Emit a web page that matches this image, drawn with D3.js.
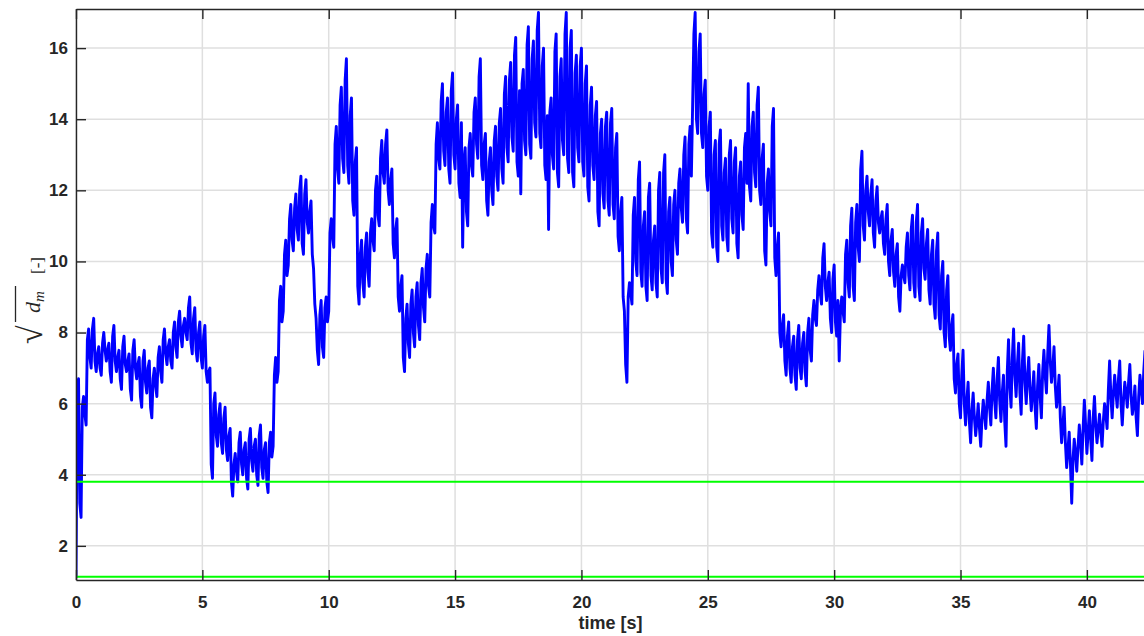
<!DOCTYPE html>
<html>
<head>
<meta charset="utf-8">
<script src="https://cdnjs.cloudflare.com/ajax/libs/d3/7.8.5/d3.min.js"></script>
<style>
  body { margin: 0; background: #fff; }
  .tick text { font-family: "Liberation Sans", Arial, sans-serif; font-weight: bold; font-size: 17px; fill: #262626; }
</style>
</head>
<body>
<div id="root"></div>
<script>
// signal read every 0.1 s (segXX) plus the in-between samples at +0.05 s (midXX), one pair per 5 s block
var seg00 = [1.1, 6.7, 2.8, 6.2, 5.4, 8.1, 7.0, 8.4, 6.9, 7.6, 6.8, 8.0, 7.2, 7.7, 6.6, 8.2, 6.9, 7.5, 6.4, 7.9,
             6.9, 7.4, 6.1, 7.8, 6.7, 7.3, 5.9, 7.5, 6.3, 7.2, 5.6, 7.0, 6.2, 7.6, 6.6, 8.1, 7.1, 7.8, 7.0, 8.3,
             7.3, 8.6, 7.6, 8.4, 7.8, 9.0, 7.4, 8.7, 7.2, 8.3];
var mid00 = [6.3, 3.2, 5.9, 5.7, 7.8, 7.3, 8.1, 7.2, 7.4, 7.0, 7.7, 7.5, 7.5, 6.9, 7.9, 7.2, 7.3, 6.7, 7.6, 7.1,
             7.2, 6.4, 7.5, 7.0, 7.1, 6.2, 7.2, 6.6, 7.0, 5.9, 6.7, 6.5, 7.3, 6.9, 7.8, 7.4, 7.6, 7.2, 8.0, 7.6,
             8.3, 7.9, 8.2, 8.0, 8.7, 7.7, 8.4, 7.5, 8.0, 7.3];
var seg05 = [7.0, 8.2, 6.6, 7.0, 3.9, 6.3, 4.8, 6.0, 4.6, 5.9, 4.4, 5.3, 3.4, 4.6, 3.8, 5.2, 4.0, 4.9, 3.6, 5.3,
             4.1, 5.0, 3.7, 5.4, 3.9, 4.9, 3.5, 5.2, 4.8, 7.3, 6.9, 9.3, 8.6, 10.6, 9.9, 11.6, 10.3, 11.9, 10.6, 12.4,
             10.2, 12.3, 10.8, 11.7, 9.8, 8.4, 7.1, 8.9, 7.3, 9.0];
var mid05 = [7.9, 6.9, 6.9, 4.3, 6.0, 5.1, 5.7, 4.9, 5.6, 4.7, 5.1, 3.8, 4.3, 4.1, 4.9, 4.3, 4.7, 3.9, 5.0, 4.4,
             4.8, 4.0, 5.1, 4.2, 4.7, 3.8, 4.9, 4.5, 6.8, 6.6, 8.9, 8.3, 10.2, 9.6, 11.2, 10.6, 11.5, 10.9, 12.0, 10.5,
             11.9, 11.1, 11.4, 10.2, 8.8, 7.5, 8.5, 7.6, 8.7, 8.3];
var seg10 = [8.6, 11.2, 10.4, 13.8, 12.2, 14.9, 12.5, 15.7, 12.2, 14.6, 11.3, 13.2, 8.8, 10.6, 9.0, 10.8, 9.3, 11.2, 10.3, 12.4,
             11.0, 13.4, 12.2, 13.7, 11.6, 12.6, 10.1, 11.2, 8.6, 9.6, 6.9, 8.8, 7.3, 9.2, 7.6, 9.4, 7.8, 9.8, 8.3, 10.2,
             9.0, 11.6, 10.8, 13.9, 12.6, 15.0, 12.7, 14.6, 12.2, 15.3];
var mid10 = [10.8, 10.7, 13.3, 12.6, 14.4, 12.9, 15.1, 12.7, 14.1, 11.7, 12.8, 9.3, 10.2, 9.4, 10.4, 9.7, 10.8, 10.6, 12.0, 11.3,
             12.9, 12.5, 13.3, 12.0, 12.3, 10.5, 10.9, 9.0, 9.3, 7.3, 8.4, 7.7, 8.8, 8.0, 9.0, 8.2, 9.4, 8.7, 9.8, 9.3,
             11.1, 11.0, 13.3, 12.9, 14.5, 13.1, 14.2, 12.6, 14.8, 13.0];
var seg15 = [12.6, 14.4, 11.8, 10.4, 13.2, 11.0, 13.6, 12.4, 14.6, 12.9, 15.7, 12.3, 13.6, 11.3, 13.2, 11.6, 13.8, 12.0, 14.3, 12.2,
             15.2, 12.8, 15.6, 13.1, 16.3, 12.4, 11.9, 15.4, 13.0, 16.6, 12.9, 16.2, 13.5, 17.0, 13.2, 16.0, 12.3, 10.9, 14.6, 12.6,
             16.4, 12.1, 15.7, 13.0, 17.0, 12.5, 16.5, 12.1, 15.8, 12.8];
var mid15 = [14.0, 12.2, 13.9, 12.8, 11.4, 13.2, 12.7, 14.2, 13.3, 15.2, 12.7, 13.3, 11.7, 12.8, 12.0, 13.4, 12.4, 13.9, 12.6, 14.7,
             13.2, 15.1, 13.5, 15.8, 12.8, 14.8, 15.0, 13.4, 16.1, 13.3, 15.7, 13.9, 16.5, 13.6, 15.5, 12.7, 14.1, 14.2, 13.0, 15.9,
             12.5, 15.2, 13.4, 16.4, 12.9, 16.0, 12.5, 15.3, 13.2, 15.5];
var seg20 = [16.0, 12.4, 15.5, 11.7, 14.9, 12.3, 14.5, 11.0, 14.0, 11.5, 14.2, 11.3, 14.3, 11.2, 13.6, 10.3, 11.8, 8.6, 6.6, 9.4,
             8.8, 11.8, 9.6, 12.8, 9.3, 11.4, 8.9, 12.2, 9.2, 11.0, 9.0, 12.5, 9.4, 13.0, 9.1, 11.8, 9.6, 12.0, 10.2, 12.6,
             11.1, 13.5, 10.8, 13.8, 14.4, 17.0, 13.6, 16.4, 13.2, 15.1];
var mid20 = [12.8, 15.0, 12.1, 14.4, 12.7, 14.1, 11.4, 13.6, 11.9, 13.8, 11.7, 13.9, 11.6, 13.2, 10.7, 11.4, 9.0, 7.1, 9.0, 9.1,
             11.3, 10.0, 12.3, 9.7, 11.0, 9.3, 11.8, 9.6, 10.6, 9.4, 12.0, 9.8, 12.5, 9.5, 11.4, 10.0, 11.6, 10.6, 12.2, 11.5,
             13.0, 11.2, 13.3, 12.4, 16.4, 14.0, 15.9, 13.6, 14.7, 12.4];
var seg25 = [12.0, 14.2, 10.4, 13.4, 10.0, 13.7, 10.6, 12.9, 10.3, 13.4, 10.8, 13.2, 10.1, 12.8, 10.9, 13.6, 15.0, 11.7, 14.2, 12.1,
             14.9, 11.6, 13.3, 9.9, 12.6, 11.0, 14.3, 9.6, 10.8, 7.6, 8.5, 6.8, 8.3, 6.6, 7.9, 6.4, 8.2, 6.7, 8.0, 6.5,
             8.4, 7.2, 8.9, 8.2, 9.6, 8.8, 10.5, 8.9, 9.7, 8.0];
var mid25 = [13.8, 10.8, 13.0, 10.4, 13.3, 11.0, 12.5, 10.7, 13.0, 11.2, 12.8, 10.5, 12.4, 11.3, 13.2, 12.2, 12.1, 13.8, 12.5, 14.4,
             12.0, 12.9, 10.3, 12.2, 11.4, 13.8, 10.1, 10.4, 8.0, 8.2, 7.2, 7.9, 7.0, 7.6, 6.8, 7.8, 7.0, 7.7, 6.9, 8.0,
             7.5, 8.5, 8.4, 9.2, 9.1, 10.1, 9.3, 9.4, 8.4, 9.5];
var seg30 = [9.9, 7.9, 7.2, 9.0, 8.3, 10.6, 9.0, 11.5, 8.9, 11.6, 10.0, 13.1, 10.6, 12.4, 11.0, 12.3, 10.4, 12.1, 10.8, 11.4,
             10.2, 11.6, 9.6, 10.9, 9.3, 10.5, 8.6, 9.9, 9.4, 10.8, 9.2, 11.3, 9.0, 11.6, 8.9, 11.2, 9.5, 10.9, 8.8, 10.6,
             8.4, 10.8, 8.1, 10.0, 7.6, 9.6, 7.5, 8.5, 6.3, 7.4];
var mid30 = [8.3, 8.9, 8.6, 8.6, 10.2, 9.4, 11.0, 9.3, 11.1, 10.4, 12.6, 11.0, 12.0, 11.4, 11.9, 10.8, 11.7, 11.1, 11.2, 10.5,
             11.2, 10.0, 10.6, 9.7, 10.2, 9.0, 9.6, 9.6, 10.4, 9.6, 10.9, 9.4, 11.1, 9.3, 10.8, 9.8, 10.5, 9.2, 10.2, 8.8,
             10.3, 8.5, 9.6, 8.0, 9.2, 7.9, 8.2, 6.7, 7.1, 6.0];
var seg35 = [5.6, 7.5, 5.4, 6.6, 4.9, 6.3, 5.1, 6.0, 4.8, 6.1, 5.3, 6.6, 5.4, 7.0, 5.6, 7.3, 5.5, 6.8, 4.8, 7.8,
             5.9, 8.1, 6.2, 7.7, 5.7, 7.9, 6.0, 7.3, 5.8, 6.9, 5.3, 7.1, 5.6, 7.5, 6.3, 8.2, 6.6, 7.6, 5.9, 6.8,
             4.9, 5.9, 4.2, 5.2, 3.2, 5.0, 4.1, 5.4, 4.3, 6.1];
var mid35 = [6.8, 6.0, 6.1, 5.5, 5.8, 5.6, 5.5, 5.3, 5.6, 5.7, 6.1, 5.9, 6.4, 6.1, 6.7, 6.1, 6.3, 5.5, 6.9, 6.5,
             7.3, 6.8, 7.1, 6.3, 7.2, 6.6, 6.8, 6.4, 6.3, 5.9, 6.5, 6.2, 6.9, 6.8, 7.4, 7.2, 7.0, 6.5, 6.3, 5.6,
             5.4, 4.9, 4.7, 4.3, 4.4, 4.6, 4.8, 4.9, 5.3, 5.4];
var seg40 = [4.6, 5.8, 4.4, 6.2, 4.9, 5.7, 4.8, 6.0, 5.3, 7.2, 5.6, 6.8, 5.9, 7.2, 5.4, 6.6, 5.9, 7.1, 5.7, 6.5,
             5.1, 6.8, 6.0, 7.5];
var mid40 = [5.2, 5.0, 5.6, 5.4, 5.3, 5.2, 5.5, 5.7, 6.4, 6.2, 6.3, 6.3, 6.7, 6.0, 6.1, 6.3, 6.6, 6.2, 6.0, 5.6,
             6.2, 6.4, 6.9];

var thresholds = [3.8, 1.13];
var xTicks = [0, 5, 10, 15, 20, 25, 30, 35, 40];
var yTicks = [2, 4, 6, 8, 10, 12, 14, 16];

var mains = [].concat(seg00, seg05, seg10, seg15, seg20, seg25, seg30, seg35, seg40);
var mids = [].concat(mid00, mid05, mid10, mid15, mid20, mid25, mid30, mid35, mid40);
var data = [];
mains.forEach(function (v, i) {
    data.push({ t: i * 0.1, v: v });
    if (i < mids.length) data.push({ t: i * 0.1 + 0.05, v: mids[i] });
});

var W = 1144, H = 636;
var margin = { top: 9, left: 76 };
var plotRight = 1145, plotBottom = 580;

var x = d3.scaleLinear().domain([0, 42.3]).range([margin.left, plotRight]);
var y = d3.scaleLinear().domain([1.04, 17.1]).range([plotBottom, margin.top]);

var svg = d3.select("#root").append("svg")
    .attr("width", W)
    .attr("height", H);

svg.append("defs").append("clipPath").attr("id", "clip")
    .append("rect")
    .attr("x", margin.left).attr("y", margin.top)
    .attr("width", plotRight - margin.left).attr("height", plotBottom - margin.top);

// grid
svg.append("g").selectAll("line.gx")
    .data(xTicks).enter().append("line")
    .attr("x1", function (d) { return x(d); }).attr("x2", function (d) { return x(d); })
    .attr("y1", margin.top).attr("y2", plotBottom)
    .style("stroke", "#dfdfdf").style("stroke-width", 1.5);
svg.append("g").selectAll("line.gy")
    .data(yTicks).enter().append("line")
    .attr("x1", margin.left).attr("x2", plotRight)
    .attr("y1", function (d) { return y(d); }).attr("y2", function (d) { return y(d); })
    .style("stroke", "#dfdfdf").style("stroke-width", 1.5);

var line = d3.line()
    .x(function (d) { return x(d.t); })
    .y(function (d) { return y(d.v); });

var plot = svg.append("g").attr("clip-path", "url(#clip)");

plot.append("path")
    .datum(data)
    .attr("d", line)
    .style("fill", "none")
    .style("stroke", "#0000ff")
    .style("stroke-width", 2.9)
    .style("stroke-linejoin", "round");

plot.selectAll("line.thr")
    .data(thresholds).enter().append("line")
    .attr("x1", margin.left).attr("x2", plotRight)
    .attr("y1", function (d) { return y(d); }).attr("y2", function (d) { return y(d); })
    .style("stroke", "#00ff00").style("stroke-width", 2);

// axes, ticks pointing inward like matlab
var xAxis = d3.axisBottom(x).tickValues(xTicks).tickSizeInner(-10).tickSizeOuter(0).tickPadding(16);
var xAxisTop = d3.axisTop(x).tickValues(xTicks).tickSizeInner(-10).tickSizeOuter(0).tickFormat("");
var yAxis = d3.axisLeft(y).tickValues(yTicks).tickSizeInner(-10).tickSizeOuter(0).tickPadding(8);

function styleAxis(g) {
    g.select(".domain").style("stroke", "#262626").style("stroke-width", 1.4);
    g.selectAll(".tick line").style("stroke", "#262626").style("stroke-width", 1.4);
}

svg.append("g")
    .attr("transform", "translate(0," + plotBottom + ")")
    .call(xAxis).call(styleAxis);
svg.append("g")
    .attr("transform", "translate(0," + margin.top + ")")
    .call(xAxisTop).call(styleAxis);
svg.append("g")
    .attr("transform", "translate(" + margin.left + ",0)")
    .call(yAxis).call(styleAxis);

svg.append("text")
    .attr("x", (margin.left + plotRight) / 2)
    .attr("y", 629)
    .attr("text-anchor", "middle")
    .style("font-family", "Liberation Sans, Arial, sans-serif")
    .style("font-weight", "bold")
    .style("font-size", "18px")
    .style("fill", "#262626")
    .text("time [s]");

// y label: sqrt(d_m) [-]
var yl = svg.append("g").attr("transform", "translate(40,300) rotate(-90)");
yl.append("text")
    .attr("x", -44).attr("y", 2)
    .style("font-family", "Liberation Serif, DejaVu Serif, serif")
    .style("font-size", "34px")
    .style("fill", "#262626")
    .text("\u221A");
yl.append("line")
    .attr("x1", -22).attr("x2", 14)
    .attr("y1", -24.5).attr("y2", -24.5)
    .style("stroke", "#262626").style("stroke-width", 1.3);
var dm = yl.append("text")
    .attr("x", -13).attr("y", 0)
    .style("font-family", "Liberation Serif, DejaVu Serif, serif")
    .style("font-style", "italic")
    .style("font-size", "22px")
    .style("fill", "#262626");
dm.append("tspan").text("d");
dm.append("tspan").attr("dy", 4).style("font-size", "15px").text("m");
yl.append("text")
    .attr("x", 26).attr("y", 3)
    .style("font-family", "Liberation Serif, DejaVu Serif, serif")
    .style("font-size", "17px")
    .style("fill", "#262626")
    .text("[-]");
</script>
</body>
</html>
